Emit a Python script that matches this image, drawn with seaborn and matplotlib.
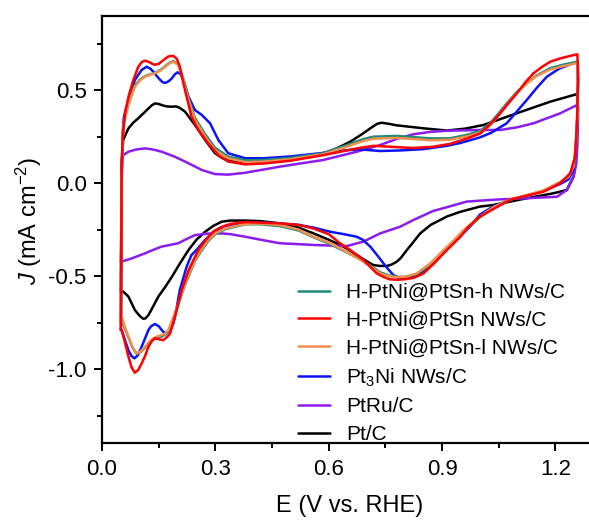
import numpy as np
import pandas as pd
import matplotlib
matplotlib.use("Agg")
import matplotlib.pyplot as plt
import seaborn as sns

# ---------------- data ----------------
series_names = ["H-PtNi@PtSn-h NWs/C", "H-PtNi@PtSn NWs/C", "H-PtNi@PtSn-l NWs/C",
                "Pt$_3$Ni NWs/C", "PtRu/C", "Pt/C"]
series_colors = ["#1f8a78", "#ff0000", "#f2904f", "#0a14f5", "#8a1cf0", "#000000"]

# H-PtNi@PtSn NWs/C (red): anodic scan then cathodic scan
red_E = [0.050, 0.052, 0.055, 0.061, 0.070, 0.083, 0.096, 0.105, 0.114, 0.125, 0.138, 0.150,
         0.162, 0.175, 0.188, 0.198, 0.206, 0.215, 0.224, 0.237, 0.255, 0.281, 0.308, 0.334,
         0.379, 0.430, 0.500, 0.586, 0.674, 0.718, 0.762, 0.824, 0.877, 0.920, 0.960, 1.000,
         1.030, 1.054, 1.076, 1.098, 1.120, 1.142, 1.165, 1.186, 1.210, 1.230, 1.258,
         1.260, 1.258, 1.256, 1.252, 1.239, 1.213, 1.190, 1.168, 1.124, 1.080, 1.036, 1.000,
         0.970, 0.948, 0.913, 0.880, 0.851, 0.825, 0.800, 0.780, 0.762, 0.745, 0.727, 0.692,
         0.660, 0.630, 0.600, 0.560, 0.520, 0.471, 0.420, 0.379, 0.340, 0.317, 0.295, 0.281,
         0.255, 0.229, 0.211, 0.193, 0.180, 0.171, 0.162, 0.150, 0.140, 0.132, 0.123, 0.114,
         0.105, 0.096, 0.087, 0.078, 0.070, 0.061, 0.052, 0.050]
red_J = [-0.79, 0.10, 0.25, 0.375, 0.464, 0.554, 0.625, 0.650, 0.658, 0.650, 0.636, 0.640,
         0.660, 0.680, 0.684, 0.668, 0.625, 0.540, 0.464, 0.356, 0.285, 0.213, 0.150, 0.115,
         0.100, 0.105, 0.120, 0.150, 0.186, 0.200, 0.195, 0.188, 0.195, 0.210, 0.235, 0.265,
         0.320, 0.375, 0.430, 0.482, 0.540, 0.590, 0.625, 0.652, 0.668, 0.679, 0.692,
         0.600, 0.400, 0.285, 0.141, 0.052, 0.000, -0.025, -0.047, -0.068, -0.090, -0.140, -0.180,
         -0.235, -0.290, -0.360, -0.430, -0.486, -0.510, -0.518, -0.520, -0.518, -0.505, -0.486, -0.414,
         -0.365, -0.324, -0.275, -0.245, -0.225, -0.217, -0.213, -0.210, -0.220, -0.235, -0.260, -0.290,
         -0.360, -0.470, -0.575, -0.720, -0.810, -0.830, -0.845, -0.840, -0.835, -0.850, -0.880, -0.930,
         -0.970, -1.005, -1.020, -0.990, -0.934, -0.860, -0.790, -0.79]

# H-PtNi@PtSn-l NWs/C (orange)
orange_E = [0.050, 0.052, 0.055, 0.058, 0.070, 0.087, 0.100, 0.114, 0.140, 0.155, 0.167, 0.180,
            0.189, 0.202, 0.215, 0.229, 0.246, 0.273, 0.299, 0.334, 0.379, 0.430, 0.500, 0.586,
            0.648, 0.690, 0.718, 0.780, 0.868, 0.920, 0.965, 1.000, 1.027, 1.050, 1.071, 1.098,
            1.124, 1.150, 1.186, 1.220, 1.258,
            1.260, 1.258, 1.254, 1.248, 1.235, 1.213, 1.168, 1.124, 1.080, 1.036, 1.000, 0.957,
            0.930, 0.904, 0.870, 0.833, 0.805, 0.780, 0.760, 0.736, 0.692, 0.630, 0.600, 0.560,
            0.520, 0.471, 0.420, 0.379, 0.326, 0.300, 0.281, 0.262, 0.246, 0.220, 0.193, 0.176,
            0.167, 0.158, 0.146, 0.136, 0.125, 0.114, 0.103, 0.092, 0.082, 0.070, 0.060, 0.052, 0.050]
orange_J = [-0.72, 0.05, 0.25, 0.32, 0.42, 0.518, 0.550, 0.572, 0.590, 0.605, 0.625, 0.645,
            0.652, 0.634, 0.554, 0.446, 0.339, 0.249, 0.177, 0.133, 0.112, 0.115, 0.128, 0.155,
            0.195, 0.225, 0.238, 0.242, 0.230, 0.232, 0.250, 0.270, 0.310, 0.365, 0.420, 0.485,
            0.535, 0.575, 0.610, 0.628, 0.645,
            0.550, 0.350, 0.200, 0.090, 0.035, 0.005, -0.040, -0.065, -0.088, -0.130, -0.180, -0.253,
            -0.310, -0.360, -0.430, -0.486, -0.503, -0.507, -0.500, -0.486, -0.423, -0.351, -0.320, -0.289,
            -0.250, -0.226, -0.218, -0.220, -0.244, -0.270, -0.306, -0.360, -0.414, -0.540, -0.700, -0.790,
            -0.810, -0.817, -0.825, -0.835, -0.855, -0.880, -0.905, -0.916, -0.890, -0.826, -0.770, -0.720, -0.72]

# H-PtNi@PtSn-h NWs/C (teal)
teal_E = orange_E
teal_J = [-0.74, 0.05, 0.25, 0.33, 0.43, 0.525, 0.555, 0.575, 0.592, 0.608, 0.628, 0.648,
          0.655, 0.638, 0.560, 0.455, 0.350, 0.262, 0.190, 0.142, 0.122, 0.124, 0.135, 0.160,
          0.204, 0.235, 0.249, 0.253, 0.240, 0.240, 0.258, 0.280, 0.321, 0.375, 0.428, 0.490,
          0.536, 0.578, 0.617, 0.636, 0.652,
          0.550, 0.350, 0.200, 0.090, 0.035, 0.005, -0.042, -0.067, -0.090, -0.133, -0.185, -0.260,
          -0.318, -0.368, -0.437, -0.490, -0.505, -0.505, -0.497, -0.480, -0.418, -0.355, -0.325, -0.292,
          -0.255, -0.232, -0.222, -0.222, -0.248, -0.275, -0.312, -0.368, -0.420, -0.545, -0.705, -0.795,
          -0.815, -0.825, -0.830, -0.838, -0.858, -0.884, -0.908, -0.918, -0.890, -0.830, -0.780, -0.740, -0.74]

# Pt3Ni NWs/C (blue)
blue_E = [0.050, 0.052, 0.055, 0.058, 0.070, 0.087, 0.105, 0.118, 0.128, 0.136, 0.145, 0.154,
          0.162, 0.169, 0.177, 0.185, 0.193, 0.200, 0.208, 0.215, 0.229, 0.246, 0.264, 0.286,
          0.308, 0.334, 0.379, 0.427, 0.500, 0.577, 0.640, 0.674, 0.700, 0.736, 0.789, 0.850,
          0.913, 0.948, 1.000, 1.030, 1.071, 1.098, 1.124, 1.150, 1.177, 1.210, 1.258,
          1.260, 1.258, 1.254, 1.247, 1.235, 1.213, 1.168, 1.124, 1.080, 1.036, 1.000, 0.974,
          0.945, 0.913, 0.880, 0.851, 0.825, 0.798, 0.785, 0.771, 0.758, 0.745, 0.727, 0.710,
          0.690, 0.674, 0.640, 0.604, 0.560, 0.520, 0.471, 0.420, 0.379, 0.317, 0.290, 0.273,
          0.250, 0.237, 0.230, 0.224, 0.206, 0.195, 0.189, 0.180, 0.171, 0.162, 0.150, 0.140,
          0.130, 0.123, 0.114, 0.105, 0.095, 0.086, 0.078, 0.070, 0.060, 0.052, 0.050]
blue_J = [-0.79, 0.05, 0.28, 0.356, 0.446, 0.554, 0.608, 0.625, 0.615, 0.598, 0.575, 0.554,
          0.540, 0.539, 0.548, 0.563, 0.585, 0.595, 0.585, 0.554, 0.464, 0.392, 0.366, 0.321,
          0.231, 0.160, 0.133, 0.133, 0.143, 0.160, 0.175, 0.180, 0.178, 0.172, 0.175, 0.182,
          0.200, 0.215, 0.245, 0.270, 0.321, 0.385, 0.446, 0.510, 0.571, 0.615, 0.652,
          0.550, 0.350, 0.180, 0.070, 0.020, -0.005, -0.042, -0.068, -0.090, -0.125, -0.170, -0.235,
          -0.290, -0.351, -0.420, -0.477, -0.500, -0.512, -0.508, -0.495, -0.465, -0.432, -0.385, -0.342,
          -0.305, -0.289, -0.275, -0.262, -0.240, -0.225, -0.217, -0.212, -0.215, -0.244, -0.280, -0.306,
          -0.360, -0.387, -0.420, -0.450, -0.575, -0.700, -0.754, -0.790, -0.808, -0.800, -0.770, -0.758,
          -0.770, -0.790, -0.835, -0.880, -0.925, -0.943, -0.930, -0.900, -0.840, -0.790, -0.79]

# PtRu/C (purple)
purple_E = [0.050, 0.052, 0.054, 0.056, 0.070, 0.090, 0.114, 0.135, 0.158, 0.193, 0.229, 0.264,
            0.299, 0.334, 0.379, 0.471, 0.586, 0.674, 0.736, 0.780, 0.824, 0.870, 0.913, 1.000,
            1.054, 1.100, 1.142, 1.180, 1.213, 1.257,
            1.260, 1.258, 1.255, 1.248, 1.230, 1.204, 1.124, 1.054, 1.000, 0.965, 0.913, 0.877,
            0.824, 0.789, 0.736, 0.692, 0.648, 0.600, 0.560, 0.471, 0.420, 0.379, 0.340, 0.317,
            0.280, 0.246, 0.220, 0.202, 0.180, 0.158, 0.135, 0.114, 0.079, 0.052, 0.050]
purple_J = [-0.423, 0.000, 0.120, 0.150, 0.168, 0.180, 0.186, 0.180, 0.168, 0.141, 0.106, 0.070,
            0.048, 0.045, 0.055, 0.088, 0.124, 0.168, 0.204, 0.237, 0.262, 0.275, 0.281, 0.285,
            0.285, 0.300, 0.321, 0.350, 0.375, 0.419,
            0.350, 0.200, 0.100, 0.034, -0.038, -0.074, -0.082, -0.088, -0.095, -0.100, -0.130, -0.150,
            -0.199, -0.235, -0.271, -0.315, -0.339, -0.336, -0.333, -0.324, -0.305, -0.289, -0.275, -0.271,
            -0.272, -0.280, -0.305, -0.324, -0.333, -0.342, -0.360, -0.378, -0.405, -0.423, -0.423]

# Pt/C (black)
black_E = [0.050, 0.052, 0.056, 0.070, 0.083, 0.096, 0.110, 0.123, 0.132, 0.140, 0.150, 0.158,
           0.170, 0.185, 0.195, 0.202, 0.210, 0.220, 0.246, 0.273, 0.299, 0.320, 0.334, 0.379,
           0.427, 0.500, 0.586, 0.620, 0.657, 0.690, 0.710, 0.728, 0.740, 0.760, 0.780, 0.851,
           0.913, 0.960, 1.010, 1.098, 1.186, 1.257,
           1.260, 1.258, 1.256, 1.252, 1.248, 1.230, 1.195, 1.124, 1.036, 1.000, 0.948, 0.913,
           0.870, 0.842, 0.825, 0.807, 0.790, 0.780, 0.767, 0.754, 0.736, 0.718, 0.700, 0.674,
           0.650, 0.630, 0.600, 0.560, 0.520, 0.471, 0.420, 0.379, 0.340, 0.317, 0.295, 0.273,
           0.250, 0.229, 0.207, 0.185, 0.167, 0.149, 0.135, 0.123, 0.115, 0.109, 0.100, 0.087,
           0.078, 0.070, 0.062, 0.056, 0.050]
black_J = [-0.584, 0.100, 0.231, 0.294, 0.325, 0.348, 0.375, 0.401, 0.418, 0.428, 0.425, 0.419,
           0.412, 0.410, 0.412, 0.408, 0.398, 0.383, 0.312, 0.231, 0.160, 0.132, 0.122, 0.106,
           0.112, 0.128, 0.160, 0.185, 0.222, 0.265, 0.294, 0.318, 0.324, 0.318, 0.310, 0.294,
           0.282, 0.292, 0.312, 0.375, 0.437, 0.478,
           0.400, 0.300, 0.195, 0.100, 0.034, -0.038, -0.055, -0.082, -0.118, -0.127, -0.155, -0.180,
           -0.225, -0.271, -0.315, -0.360, -0.405, -0.423, -0.438, -0.446, -0.446, -0.441, -0.420, -0.387,
           -0.355, -0.333, -0.305, -0.271, -0.240, -0.217, -0.205, -0.202, -0.202, -0.208, -0.230, -0.262,
           -0.305, -0.360, -0.430, -0.504, -0.560, -0.611, -0.665, -0.710, -0.728, -0.730, -0.715, -0.683,
           -0.645, -0.611, -0.595, -0.584, -0.584]

x_ticks = [0.0, 0.3, 0.6, 0.9, 1.2]
y_ticks = [-1.0, -0.5, 0.0, 0.5]

# ---------------- build long-form table ----------------
curves = {
    series_names[0]: (teal_E, teal_J),
    series_names[1]: (red_E, red_J),
    series_names[2]: (orange_E, orange_J),
    series_names[3]: (blue_E, blue_J),
    series_names[4]: (purple_E, purple_J),
    series_names[5]: (black_E, black_J),
}
frames = []
for name, (E, J) in curves.items():
    frames.append(pd.DataFrame({"E": E, "J": J, "sample": name}))
df = pd.concat(frames, ignore_index=True)

# ---------------- style ----------------
sns.set_style("ticks")
plt.rcParams["font.family"] = ["Liberation Sans", "DejaVu Sans"]
plt.rcParams["mathtext.fontset"] = "custom"
plt.rcParams["mathtext.rm"] = "Liberation Sans"
plt.rcParams["mathtext.it"] = "Liberation Sans:italic"
plt.rcParams["mathtext.bf"] = "Liberation Sans:bold"
plt.rcParams["axes.unicode_minus"] = False
for key in ["text.color", "axes.labelcolor", "xtick.color", "ytick.color", "axes.edgecolor"]:
    plt.rcParams[key] = "black"

fig = plt.figure(figsize=(5.89, 5.22), dpi=100)
ax = fig.add_axes([102 / 589, 1 - 443.4 / 522, (597 - 102) / 589, (443.4 - 15.6) / 522])

palette = dict(zip(series_names, series_colors))
draw_order = [series_names[5], series_names[4], series_names[3], series_names[0],
              series_names[2], series_names[1]]
sns.lineplot(data=df, x="E", y="J", hue="sample", hue_order=draw_order, palette=palette,
             sort=False, estimator=None, linewidth=1.8, ax=ax)

ax.set_xlim(0, 1.31)
ax.set_ylim(-1.4, 0.9)
ax.set_xticks(x_ticks)
ax.set_xticklabels([f"{v:.1f}" for v in x_ticks])
ax.set_yticks(y_ticks)
ax.set_yticklabels([f"{v:.1f}" for v in y_ticks])
ax.set_xticks([0.15, 0.45, 0.75, 1.05], minor=True)
ax.set_yticks([-1.25, -0.75, -0.25, 0.25, 0.75], minor=True)
ax.tick_params(axis="both", which="major", direction="out", length=6, width=1.4,
               labelsize=16, pad=5, colors="black")
ax.tick_params(axis="both", which="minor", direction="out", length=3.5, width=1.4, colors="black")
ax.tick_params(top=False, right=False, which="both")
for s in ax.spines.values():
    s.set_linewidth(1.6)
    s.set_color("black")
ax.spines["right"].set_visible(False)

ax.set_xlabel("E (V vs. RHE)", fontsize=17, labelpad=11)
ax.set_ylabel("$\\mathit{J}$ (mA cm$^{-2}$)", fontsize=17)
ax.yaxis.set_label_coords(-0.117, 0.52)

handles, labels = ax.get_legend_handles_labels()
lookup = dict(zip(labels, handles))
ax.legend([lookup[n] for n in series_names], series_names, frameon=False,
          loc="upper left", bbox_to_anchor=(0.396, 0.375), borderpad=0, borderaxespad=0,
          fontsize=15, handlelength=1.55, handletextpad=0.75, labelspacing=0.42)

fig.savefig("out.png", dpi=100)
